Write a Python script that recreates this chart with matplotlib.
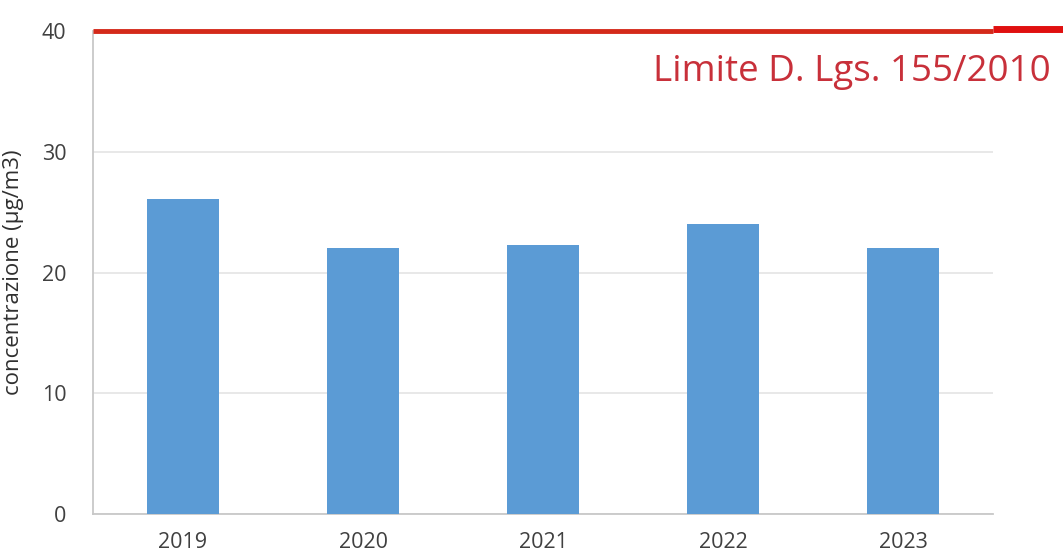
import matplotlib.pyplot as plt

plt.rcParams["font.family"] = ["Open Sans", "DejaVu Sans"]

"""
__Data__
"""
years = ["2019", "2020", "2021", "2022", "2023"]
concentration = [26.1, 22.0, 22.3, 24.0, 22.0]
limit_value = 40
limit_label = "Limite D. Lgs. 155/2010"
y_ticks = [0, 10, 20, 30, 40]

bar_colour = "#5b9bd5"
limit_colour = "#e01010"
text_colour = "#404040"

fig = plt.figure(figsize=(10.63, 5.54), dpi=100)
ax = fig.add_axes([0.0875, 0.072, 0.847, 0.872])

x = list(range(len(years)))
ax.bar(x, concentration, width=0.4, color=bar_colour, zorder=3)

ax.set_xlim(-0.5, len(years) - 0.5)
ax.set_ylim(0, 40)
ax.set_yticks(y_ticks)
ax.set_xticks(x)
ax.set_xticklabels(years)
ax.tick_params(axis="both", length=0, labelsize=15.5, labelcolor=text_colour)
ax.tick_params(axis="x", pad=13)
ax.tick_params(axis="y", pad=19)

ax.grid(axis="y", color="#e4e4e4", linewidth=1.2, zorder=0)
for side in ["top", "right"]:
    ax.spines[side].set_visible(False)
for side in ["left", "bottom"]:
    ax.spines[side].set_color("#c8c8c8")
    ax.spines[side].set_linewidth(1.3)

# limit line, runs past the plot area to the right edge
ax.plot([-0.5, 4.5], [limit_value, limit_value], color="#d42a1a", linewidth=3.5,
        zorder=4, clip_on=False, solid_capstyle="butt")
ax.plot([4.5, 4.9], [limit_value + 0.15, limit_value + 0.15], color=limit_colour,
        linewidth=5, zorder=4, clip_on=False, solid_capstyle="butt")

ax.text(4.82, 36.6, limit_label, color="#c8303a", fontsize=26.5, ha="right", va="center")

ax.set_ylabel("concentrazione (µg/m3)", fontsize=16, color="#303030", labelpad=13)

plt.savefig("out.png")
